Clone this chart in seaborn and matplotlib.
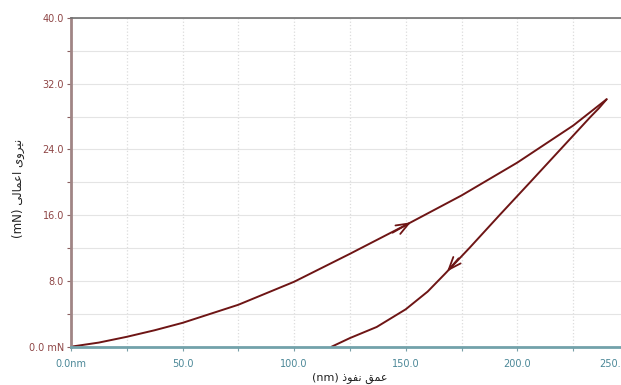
import numpy as np
import pandas as pd
import seaborn as sns
import matplotlib.pyplot as plt
from matplotlib.ticker import MultipleLocator, FixedLocator
from matplotlib.transforms import ScaledTranslation

# values
load_depth = [0, 12.5, 25, 37.5, 50, 75, 100, 125, 150, 175, 200, 225, 240]
load_force = [0, 0.5, 1.2, 2.0, 2.9, 5.1, 7.9, 11.3, 14.8, 18.4, 22.4, 26.9, 30.1]
unload_depth = [240, 236.5, 232.9, 219.3, 205.7, 192.0, 178.5, 167.7, 159.8, 150, 137, 125, 116.8]
unload_force = [30.1, 29, 28, 24, 20, 16, 12, 8.9, 6.7, 4.55, 2.4, 1.05, 0]

x_ticks = [0, 50, 100, 150, 200, 250]
x_labels = ['0.0nm', '50.0', '100.0', '150.0', '200.0', '250.0']
y_ticks = [0, 8, 16, 24, 32, 40]
y_labels = ['0.0 mN', '8.0', '16.0', '24.0', '32.0', '40.0']

x_title = 'عمق نفوذ (nm)'
y_title = 'نیروی اعمالی (mN)'

# arabic letters -> (isolated, final, initial, medial)
forms = {
    'ا': ('\uFE8D', '\uFE8E', None, None),
    'ر': ('\uFEAD', '\uFEAE', None, None),
    'ذ': ('\uFEAB', '\uFEAC', None, None),
    'و': ('\uFEED', '\uFEEE', None, None),
    'ن': ('\uFEE5', '\uFEE6', '\uFEE7', '\uFEE8'),
    'ی': ('\uFBFC', '\uFBFD', '\uFBFE', '\uFBFF'),
    'ع': ('\uFEC9', '\uFECA', '\uFECB', '\uFECC'),
    'م': ('\uFEE1', '\uFEE2', '\uFEE3', '\uFEE4'),
    'ل': ('\uFEDD', '\uFEDE', '\uFEDF', '\uFEE0'),
    'ق': ('\uFED5', '\uFED6', '\uFED7', '\uFED8'),
    'ف': ('\uFED1', '\uFED2', '\uFED3', '\uFED4'),
}


def shape_word(w):
    out = []
    for i, c in enumerate(w):
        if c not in forms:
            out.append(c)
            continue
        prev = w[i - 1] if i > 0 else None
        nxt = w[i + 1] if i < len(w) - 1 else None
        join_prev = prev in forms and forms[prev][2] is not None
        join_next = nxt in forms and forms[c][2] is not None
        f = forms[c]
        if join_prev and join_next:
            out.append(f[3])
        elif join_prev:
            out.append(f[1])
        elif join_next:
            out.append(f[2])
        else:
            out.append(f[0])
    return ''.join(out[::-1])


def visual(text):
    # persian words right to left, latin part stays at the left
    words = text.split(' ')
    fa = [w for w in words if w[0] in forms]
    la = [w for w in words if w[0] not in forms]
    return ' '.join(la + [shape_word(w) for w in fa[::-1]])


load = pd.DataFrame({'depth': load_depth, 'force': load_force})
unload = pd.DataFrame({'depth': unload_depth, 'force': unload_force})

sns.set_style('white')
plt.rcParams['font.family'] = ['DejaVu Sans']

fig = plt.figure(figsize=(6.21, 3.85), dpi=100)
ax = fig.add_axes([0.1142, 0.0995, 0.8986, 0.854])

curve = '#6e1515'
sns.lineplot(data=load, x='depth', y='force', sort=False, estimator=None,
             color=curve, lw=1.4, ax=ax)
sns.lineplot(data=unload, x='depth', y='force', sort=False, estimator=None,
             color=curve, lw=1.4, ax=ax)

# direction arrows
ax.annotate('', xy=(153.4, 15.3), xytext=(143, 13.7),
            arrowprops=dict(arrowstyle='->,head_length=0.9,head_width=0.35',
                            color=curve, lw=1.3))
ax.annotate('', xy=(167.7, 8.9), xytext=(174.5, 11.0),
            arrowprops=dict(arrowstyle='->,head_length=0.9,head_width=0.35',
                            color=curve, lw=1.3))

ax.set_xlim(0, 250)
ax.set_ylim(0, 40)
ax.xaxis.set_major_locator(FixedLocator(x_ticks))
ax.set_xticklabels(x_labels)
ax.yaxis.set_major_locator(FixedLocator(y_ticks))
ax.set_yticklabels(y_labels)
ax.xaxis.set_minor_locator(MultipleLocator(25))
ax.yaxis.set_minor_locator(MultipleLocator(4))

ax.grid(which='both', axis='x', color='#dcdcdc', ls=':', lw=0.9)
ax.grid(which='both', axis='y', color='#e4e4e4', ls='-', lw=0.8)

ax.tick_params(axis='y', which='both', direction='out', length=3, width=0.8,
               color='#8a6060', labelcolor='#8e4545', labelsize=7, pad=2,
               left=True)
ax.tick_params(axis='x', which='both', direction='out', length=3, width=0.8,
               color='#7aa0a8', labelcolor='#4a8797', labelsize=7, pad=6,
               bottom=True)

# last x label sits partly inside the picture, as in the reference
last = ax.get_xticklabels()[-1]
last.set_transform(last.get_transform() + ScaledTranslation(-0.16, 0, fig.dpi_scale_trans))

ax.spines['left'].set_color('#a08585')
ax.spines['left'].set_linewidth(2)
ax.spines['bottom'].set_color('#72a2aa')
ax.spines['bottom'].set_linewidth(2)
ax.spines['top'].set_color('#707070')
ax.spines['top'].set_linewidth(1.2)
ax.spines['right'].set_visible(False)

ax.set_xlabel(visual(x_title), fontsize=8, color='#222222', labelpad=3)
ax.set_ylabel(visual(y_title), fontsize=8.5, color='#222222')
ax.yaxis.set_label_coords(-0.082, 0.48)

fig.savefig('out.png', dpi=100)
